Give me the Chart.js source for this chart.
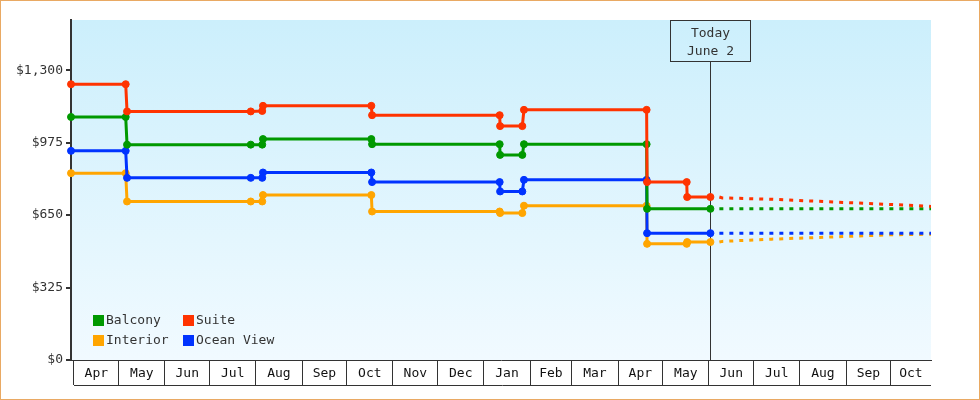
<!DOCTYPE html>
<html>
<head>
<meta charset="utf-8">
<title>Cabin prices</title>
<script src="https://cdn.jsdelivr.net/npm/chart.js@4.4.1/dist/chart.umd.min.js"></script>
<style>
  html, body { margin: 0; padding: 0; background: #fff; }
  #wrap { width: 978px; height: 398px; border: 1px solid #e9a963; }
  canvas { display: block; }
</style>
</head>
<body>
<div id="wrap"><canvas id="priceChart" width="978" height="398"></canvas></div>
<script>
// x values are days counted from April 1 of the first year
const monthLabels = ['Apr', 'May', 'Jun', 'Jul', 'Aug', 'Sep', 'Oct', 'Nov', 'Dec', 'Jan',
                     'Feb', 'Mar', 'Apr', 'May', 'Jun', 'Jul', 'Aug', 'Sep', 'Oct'];
const monthStarts = [0, 30, 61, 91, 122, 153, 183, 214, 244, 275,
                     306, 334, 365, 395, 426, 456, 487, 518, 548];
const axisStart = -2;
const axisEnd = 575;
const todayDay = 427;
const todayLabel = ['Today', 'June 2'];

const yTicks = [0, 325, 650, 975, 1300];
const yMax = 1525;

// price history (solid lines)
const suiteDays   = [-2, 34.7, 35.6, 118.6, 126.3, 126.8, 199.5, 200, 285.6, 285.9, 300.8, 301.9, 384.2, 384.5, 411.1, 411.4, 427];
const suitePrices = [1237, 1237, 1115, 1115, 1117, 1140, 1140, 1098, 1098, 1049, 1049, 1122, 1122, 798, 798, 731, 731];

const balconyDays   = [-2, 34.7, 35.6, 118.6, 126.3, 126.8, 199.5, 200, 285.6, 285.9, 300.8, 301.9, 384.2, 384.5, 427];
const balconyPrices = [1090, 1090, 966, 966, 966, 991, 991, 968, 968, 920, 920, 968, 968, 678, 678];

const oceanDays   = [-2, 34.7, 35.6, 118.6, 126.3, 126.8, 199.5, 200, 285.6, 285.9, 300.8, 301.9, 384.2, 384.5, 427];
const oceanPrices = [938, 938, 817, 817, 817, 841, 841, 798, 798, 756, 756, 808, 808, 569, 569];

const interiorDays   = [-2, 34.7, 35.6, 118.6, 126.3, 126.8, 199.5, 200, 285.6, 285.9, 300.8, 301.9, 384.2, 384.5, 411.1, 411.4, 427];
const interiorPrices = [838, 838, 711, 711, 711, 740, 740, 666, 666, 659, 659, 692, 692, 521, 521, 529, 529];

// forecast (dashed lines)
const forecastDays     = [433, 435, 468, 550, 575];
const suiteForecast    = [731, 727, 721, 697, 689];
const balconyForecast  = [678, 678, 678, 678, 678];
const oceanForecast    = [569, 569, 569, 569, 569];
const interiorForecast = [529, 532, 542, 562, 564];

const colors = {
  Suite: '#ff3300',
  Balcony: '#009900',
  'Ocean View': '#0033ff',
  Interior: '#ffa500'
};
const legendOrder = ['Balcony', 'Suite', 'Interior', 'Ocean View'];

const FONT = '"DejaVu Sans Mono", monospace';
const INK = '#333333';

function toPoints(days, values) {
  return days.map((d, i) => ({ x: d, y: values[i] }));
}

function history(label, days, values) {
  return {
    label: label,
    data: toPoints(days, values),
    borderColor: colors[label],
    backgroundColor: colors[label],
    borderWidth: 3,
    pointRadius: 3.5,
    pointBorderWidth: 1,
    pointBorderColor: colors[label],
    pointBackgroundColor: colors[label],
    tension: 0,
    fill: false,
    clip: false
  };
}

function forecast(label, values) {
  return {
    label: label + ' forecast',
    data: toPoints(forecastDays, values),
    borderColor: colors[label],
    borderWidth: 3,
    borderDash: [4, 6],
    pointRadius: 0,
    tension: 0,
    fill: false
  };
}

// month ticks: boundaries carry the box lines, midpoints carry the names
const boundarySet = new Set(monthStarts);
const midLabel = new Map();
monthStarts.forEach((start, i) => {
  const end = i + 1 < monthStarts.length ? monthStarts[i + 1] : axisEnd;
  midLabel.set((start + end) / 2, monthLabels[i]);
});

// gradient behind the plot
const backgroundPlugin = {
  id: 'plotBackground',
  beforeDraw(chart) {
    const a = chart.chartArea;
    const ctx = chart.ctx;
    const g = ctx.createLinearGradient(0, a.top, 0, a.bottom);
    g.addColorStop(0, 'rgb(204, 239, 252)');
    g.addColorStop(1, 'rgb(241, 250, 255)');
    ctx.save();
    ctx.fillStyle = g;
    ctx.fillRect(a.left, a.top, a.right - a.left, a.bottom - a.top);
    ctx.restore();
  }
};

// "Today" marker line and box
const todayPlugin = {
  id: 'todayMarker',
  beforeDatasetsDraw(chart) {
    const a = chart.chartArea;
    const ctx = chart.ctx;
    const x = Math.round(chart.scales.x.getPixelForValue(todayDay)) + 0.5;
    ctx.save();
    ctx.strokeStyle = INK;
    ctx.lineWidth = 1;
    ctx.beginPath();
    ctx.moveTo(x, a.top + 41);
    ctx.lineTo(x, a.bottom);
    ctx.stroke();
    ctx.restore();
  },
  afterDatasetsDraw(chart) {
    const a = chart.chartArea;
    const ctx = chart.ctx;
    const x = Math.round(chart.scales.x.getPixelForValue(todayDay)) + 0.5;
    const w = 80, h = 41;
    ctx.save();
    ctx.strokeStyle = INK;
    ctx.lineWidth = 1;
    ctx.strokeRect(x - w / 2, a.top + 0.5, w, h);
    ctx.fillStyle = INK;
    ctx.font = '13px ' + FONT;
    ctx.textAlign = 'center';
    ctx.textBaseline = 'middle';
    ctx.fillText(todayLabel[0], x, a.top + 13.5);
    ctx.fillText(todayLabel[1], x, a.top + 31.5);
    ctx.restore();
  }
};

// legend inside the plot, two columns
const legendPlugin = {
  id: 'innerLegend',
  afterDatasetsDraw(chart) {
    const ctx = chart.ctx;
    const a = chart.chartArea;
    ctx.save();
    ctx.font = '13px ' + FONT;
    ctx.textBaseline = 'middle';
    ctx.textAlign = 'left';
    legendOrder.forEach((name, i) => {
      const x = a.left + 22 + (i % 2) * 90;
      const y = a.bottom - 45 + Math.floor(i / 2) * 20;
      ctx.fillStyle = colors[name];
      ctx.fillRect(x, y, 11, 11);
      ctx.fillStyle = INK;
      ctx.fillText(name, x + 13, y + 6);
    });
    ctx.restore();
  }
};

// bottom rule under the month boxes
const boxRulePlugin = {
  id: 'boxRule',
  afterDraw(chart) {
    const ctx = chart.ctx;
    const a = chart.chartArea;
    const x0 = Math.round(chart.scales.x.getPixelForValue(monthStarts[0]));
    const y = a.bottom + 25.5;
    ctx.save();
    ctx.strokeStyle = INK;
    ctx.lineWidth = 1;
    ctx.beginPath();
    ctx.moveTo(x0, y);
    ctx.lineTo(a.right, y);
    ctx.stroke();
    ctx.restore();
  }
};

const ctx = document.getElementById('priceChart').getContext('2d');

const priceChart = new Chart(ctx, {
  type: 'line',
  data: {
    datasets: [
      history('Suite', suiteDays, suitePrices),
      history('Balcony', balconyDays, balconyPrices),
      history('Ocean View', oceanDays, oceanPrices),
      history('Interior', interiorDays, interiorPrices),
      forecast('Suite', suiteForecast),
      forecast('Balcony', balconyForecast),
      forecast('Ocean View', oceanForecast),
      forecast('Interior', interiorForecast)
    ]
  },
  options: {
    responsive: false,
    animation: false,
    events: [],
    layout: { padding: { left: 0, right: 48, top: 19, bottom: 9 } },
    plugins: {
      legend: { display: false },
      tooltip: { enabled: false }
    },
    scales: {
      x: {
        type: 'linear',
        min: axisStart,
        max: axisEnd,
        afterBuildTicks(scale) {
          const values = monthStarts.concat(Array.from(midLabel.keys()));
          values.sort((p, q) => p - q);
          scale.ticks = values.map(v => ({ value: v }));
        },
        afterFit(scale) { scale.height = 30; },
        border: { display: true, color: INK, width: 1 },
        grid: {
          drawOnChartArea: false,
          drawTicks: true,
          tickLength: 25,
          lineWidth: 1,
          color: c => (c.tick && boundarySet.has(c.tick.value)) ? INK : 'rgba(0,0,0,0)'
        },
        ticks: {
          autoSkip: false,
          maxRotation: 0,
          padding: -19,
          color: '#111',
          font: { family: FONT, size: 13 },
          callback: v => midLabel.has(v) ? midLabel.get(v) : ''
        }
      },
      y: {
        min: 0,
        max: yMax,
        afterBuildTicks(scale) {
          scale.ticks = yTicks.map(v => ({ value: v }));
        },
        afterFit(scale) { scale.width = 70; },
        border: { display: true, color: INK, width: 2 },
        grid: {
          drawOnChartArea: false,
          drawTicks: true,
          tickLength: 5,
          lineWidth: 2,
          color: INK
        },
        ticks: {
          padding: 3,
          color: INK,
          font: { family: FONT, size: 13 },
          callback: v => '$' + v.toLocaleString('en-US')
        }
      }
    }
  },
  plugins: [backgroundPlugin, todayPlugin, legendPlugin, boxRulePlugin]
});
</script>
</body>
</html>
